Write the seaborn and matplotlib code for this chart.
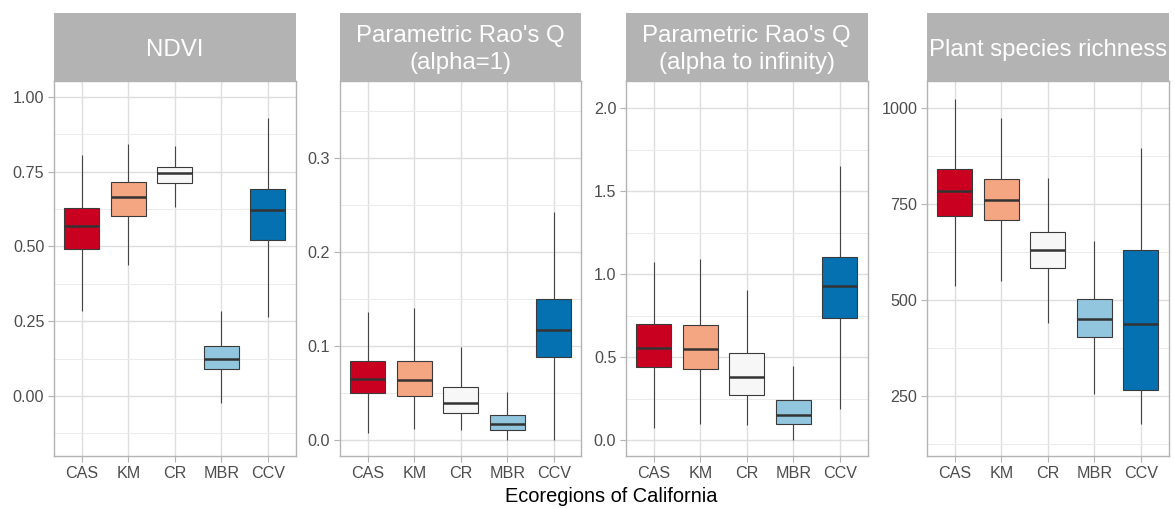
import numpy as np
import pandas as pd
import matplotlib
matplotlib.use("Agg")
import matplotlib.pyplot as plt
import seaborn as sns

# Ecoregions and their fill colours (RdBu diverging palette)
regions = ["CAS", "KM", "CR", "MBR", "CCV"]
region_colors = ["#CA0020", "#F4A582", "#F7F7F7", "#92C5DE", "#0571B0"]

# Five-number summaries per region: [lower whisker, Q1, median, Q3, upper whisker]
ndvi_summary = [
    [0.285, 0.493, 0.569, 0.630, 0.806],
    [0.438, 0.603, 0.667, 0.715, 0.842],
    [0.633, 0.714, 0.745, 0.765, 0.837],
    [-0.022, 0.089, 0.124, 0.166, 0.285],
    [0.265, 0.522, 0.622, 0.693, 0.931],
]
rao_alpha1_summary = [
    [0.008, 0.0497, 0.065, 0.0845, 0.1366],
    [0.0117, 0.0472, 0.0642, 0.0845, 0.141],
    [0.011, 0.0284, 0.0394, 0.0568, 0.0994],
    [0.0, 0.0107, 0.017, 0.027, 0.0511],
    [0.0, 0.088, 0.117, 0.1498, 0.2425],
]
rao_inf_summary = [
    [0.074, 0.440, 0.557, 0.698, 1.075],
    [0.0965, 0.426, 0.549, 0.692, 1.090],
    [0.0905, 0.270, 0.380, 0.523, 0.905],
    [0.0, 0.098, 0.151, 0.239, 0.448],
    [0.185, 0.734, 0.927, 1.102, 1.653],
]
richness_summary = [
    [536, 718, 785, 841, 1024],
    [549, 708, 760, 815, 975],
    [440, 582, 631, 676, 817],
    [254, 404, 450, 503, 654],
    [175, 266, 436, 631, 896],
]

panel_titles = [
    "NDVI",
    "Parametric Rao's Q\n(alpha=1)",
    "Parametric Rao's Q\n(alpha to infinity)",
    "Plant species richness",
]
major_ticks = [
    [0.0, 0.25, 0.50, 0.75, 1.00],
    [0.0, 0.1, 0.2, 0.3],
    [0.0, 0.5, 1.0, 1.5, 2.0],
    [250, 500, 750, 1000],
]
minor_ticks = [
    [-0.125, 0.125, 0.375, 0.625, 0.875],
    [0.05, 0.15, 0.25, 0.35],
    [0.25, 0.75, 1.25, 1.75],
    [125, 375, 625, 875],
]
tick_formats = ["{:.2f}", "{:.1f}", "{:.1f}", "{:.0f}"]
y_limits = [(-0.2007, 1.0535), (-0.017, 0.3823), (-0.0965, 2.165), (92.6, 1071)]
x_title = "Ecoregions of California"

sns.set_theme(style="white")
plt.rcParams["font.family"] = ["Liberation Sans", "DejaVu Sans"]

W, H = 1175, 509
fig = plt.figure(figsize=(W / 100, H / 100), dpi=100)

panel_left = [54, 340, 626, 927]
panel_width = 241.5
panel_top, panel_bottom, strip_top = 81, 456, 13

grid_col = "#DEDEDE"
border_col = "#B3B3B3"
text_col = "#4D4D4D"

summaries = [ndvi_summary, rao_alpha1_summary, rao_inf_summary, richness_summary]

for i, summary in enumerate(summaries):
    # long-form table: five observations per region reproduce its summary
    df = pd.DataFrame(
        [(reg, v) for reg, vals in zip(regions, summary) for v in vals],
        columns=["region", "value"],
    )
    ax = fig.add_axes([
        panel_left[i] / W,
        (H - panel_bottom) / H,
        panel_width / W,
        (panel_bottom - panel_top) / H,
    ])
    ax.set_axisbelow(True)
    sns.boxplot(
        data=df, x="region", y="value", hue="region", order=regions,
        hue_order=regions, palette=region_colors, saturation=1, legend=False,
        whis=(0, 100), width=0.75, showfliers=False, showcaps=False,
        linecolor="#3A3A3A", linewidth=0.8,
        medianprops={"linewidth": 1.8, "color": "#333333"},
        whiskerprops={"linewidth": 0.8, "color": "#444444"},
        ax=ax,
    )
    ax.set_xlim(-0.6, 4.6)
    ax.set_ylim(*y_limits[i])
    ax.set_yticks(major_ticks[i])
    ax.set_yticklabels([tick_formats[i].format(t) for t in major_ticks[i]])
    ax.set_yticks(minor_ticks[i], minor=True)
    ax.set_xlabel("")
    ax.set_ylabel("")
    ax.grid(True, which="major", color=grid_col, linewidth=1.0)
    ax.grid(True, which="minor", axis="y", color="#EBEBEB", linewidth=0.7)
    ax.tick_params(axis="both", which="major", length=4, width=0.8,
                   color=border_col, labelcolor=text_col, labelsize=11.6, pad=3)
    ax.tick_params(axis="y", which="minor", length=0)
    ax.tick_params(axis="both", which="both", left=True, bottom=True)
    for sp in ax.spines.values():
        sp.set_color(border_col)
        sp.set_linewidth(1.0)
        sp.set_visible(True)

    # facet strip
    sax = fig.add_axes([
        panel_left[i] / W,
        (H - panel_top) / H,
        panel_width / W,
        (panel_top - strip_top) / H,
    ])
    sax.set_facecolor("#B3B3B3")
    sax.set_xticks([])
    sax.set_yticks([])
    for sp in sax.spines.values():
        sp.set_visible(False)
    sax.text(0.5, 0.46, panel_titles[i], ha="center", va="center",
             color="white", fontsize=17.3, linespacing=1.3,
             transform=sax.transAxes)

fig.text((54 + 1168) / 2 / W, (H - 496) / H, x_title, ha="center",
         va="center", fontsize=14.4, color="black")

fig.savefig("out.png", dpi=100, facecolor="white")
